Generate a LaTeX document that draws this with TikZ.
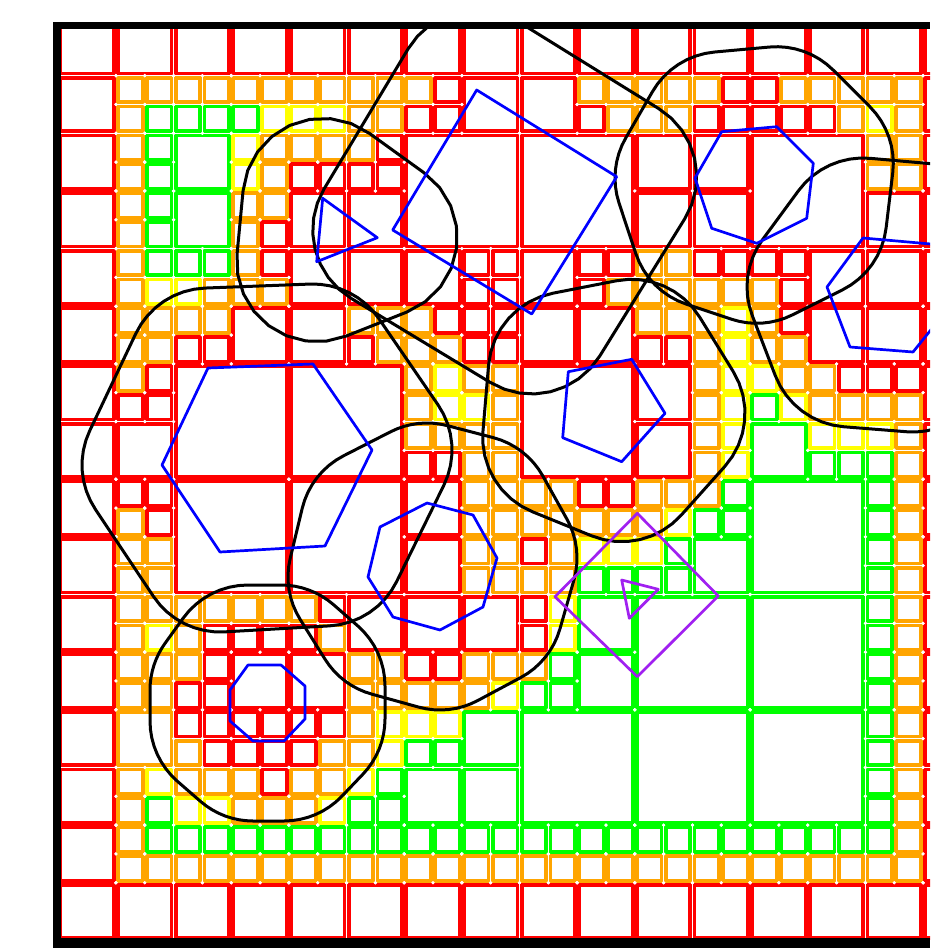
\documentclass[tikz,border=0pt]{standalone}
\usetikzlibrary{calc}
\definecolor{cR}{RGB}{255,0,0}
\definecolor{cO}{RGB}{255,165,0}
\definecolor{cY}{RGB}{255,255,0}
\definecolor{cG}{RGB}{0,255,0}
\definecolor{cB}{RGB}{0,0,255}
\definecolor{cP}{RGB}{160,32,240}
\tikzset{
  cellband/.style={line width=3.8},
  blobline/.style={black,line width=3,line join=round},
  polyline/.style={cB,line width=2.7,line join=round},
  purpline/.style={cP,line width=2.7,line join=round},
}
\newif\ifdotmode
\newcommand\qbox[4]{%
  \ifdotmode
    \fill[white] (#1,#2) circle[radius=1.7] ({#1+#3},#2) circle[radius=1.7]
      (#1,{#2+#3}) circle[radius=1.7] ({#1+#3},{#2+#3}) circle[radius=1.7];
  \else
    \draw[cellband,c#4] ({#1+2.1},{#2+2.1}) rectangle ({#1+#3-2.1},{#2+#3-2.1});
  \fi}
\newcommand\drawcell[4]{%
  \pgfmathsetmacro\X{58.3+57.65*#1}\pgfmathsetmacro\Y{18+57.65*#2}\pgfmathsetmacro\S{57.65*#3}%
  \qbox{\X}{\Y}{\S}{#4}}
\newcommand\drawsub[6]{%
  \pgfmathsetmacro\X{58.3+57.65*#1}\pgfmathsetmacro\Y{18+57.65*#2}%
  \pgfmathsetmacro\Xh{\X+28.825}\pgfmathsetmacro\Yh{\Y+28.825}%
  \qbox{\X}{\Y}{28.825}{#3}\qbox{\Xh}{\Y}{28.825}{#4}%
  \qbox{\X}{\Yh}{28.825}{#5}\qbox{\Xh}{\Yh}{28.825}{#6}}
\def\docellA#1#2#3#4#5\stopcell{%
  \if x#1\relax\else
    \if m#1\relax\drawcell{\ci}{\cj}{2}{#2}%
    \else
      \if .#2\relax\drawcell{\ci}{\cj}{1}{#1}%
      \else\drawsub{\ci}{\cj}{#1}{#2}{#3}{#4}%
      \fi
    \fi
  \fi}
\newcommand\Row[2]{\def\cj{#1}\foreach[count=\ci from 0] \e in {#2}{\expandafter\docellA\e....\stopcell}}
\newcommand\gridtable{%
\Row{0}{R,R,R,R,R,R,R,R,R,R,R,R,R,R,R,R}%
\Row{1}{R,OOOG,OOGG,OOGY,OOYY,OOOO,ORRR,R,R,OORO,OOOO,ORRR,RORR,OORO,OOYO,R}%
\Row{2}{R,OGOG,G,YOYO,OORR,ORRR,mR,x,mR,x,R,R,mR,x,OOOO,R}%
\Row{3}{R,OGOG,G,OOOR,R,R,x,x,x,x,R,R,x,x,R,R}%
\Row{4}{R,OGOY,GGYO,OROO,R,R,R,RRRR,R,RRRO,OOOO,RROO,RROR,R,R,R}%
\Row{5}{R,OOOO,OORR,R,R,OORO,OROO,RRRR,R,R,OORR,OYOY,OROO,R,R,R}%
\Row{6}{R,ORRR,mR,x,mR,x,OYOY,OOYO,mR,x,R,OYOY,YOGY,OROO,RROO,R}%
\Row{7}{R,R,x,x,x,x,OORR,OOOO,x,x,R,OYOY,G,YYGG,YOGO,R}%
\Row{8}{R,RROR,mR,x,mR,x,R,OOOO,OOOO,RROO,OOOY,OGGG,mG,x,GOGO,R}%
\Row{9}{R,OOOO,x,x,x,x,R,OOOO,ROOO,YYGG,YGGG,G,x,x,GOGO,R}%
\Row{10}{R,OOOY,OOOR,OORR,ORRO,R,R,R,RYRY,G,mG,x,mG,x,GOGO,R}%
\Row{11}{R,OOOO,ORRR,R,R,OOOO,RROO,OOOY,OGGG,G,x,x,x,x,GOGO,R}%
\Row{12}{R,O,RROR,RRRR,RRRO,OYOY,YYGG,G,mG,x,mG,x,mG,x,GOGO,R}%
\Row{13}{R,OYOG,OOYY,OROO,OOOY,YGGG,G,G,x,x,x,x,x,x,GOGO,R}%
\Row{14}{R,OGOO,GGOO,GGOO,GGOO,GGOO,GGOO,GGOO,GGOO,GGOO,GGOO,GGOO,GGOO,GGOO,GOOO,R}%
\Row{15}{R,R,R,R,R,R,R,R,R,R,R,R,R,R,R,R}%
}
% rounded offset outline (distance 80) of a convex polygon
\newcommand\blob[1]{%
  \gdef\blobpts{}%
  \foreach[count=\nn] \vx/\vy in {#1}{%
    \expandafter\xdef\csname bx\nn\endcsname{\vx}%
    \expandafter\xdef\csname by\nn\endcsname{\vy}%
    \xdef\blobN{\nn}}%
  \foreach \kk in {1,...,\blobN}{%
    \pgfmathtruncatemacro\kp{\kk==1 ? \blobN : \kk-1}%
    \pgfmathtruncatemacro\kn{\kk==\blobN ? 1 : \kk+1}%
    \edef\Vx{\csname bx\kk\endcsname}\edef\Vy{\csname by\kk\endcsname}%
    \edef\Px{\csname bx\kp\endcsname}\edef\Py{\csname by\kp\endcsname}%
    \edef\Nx{\csname bx\kn\endcsname}\edef\Ny{\csname by\kn\endcsname}%
    \pgfmathsetmacro\aone{atan2(\Vy-\Py,\Vx-\Px)}%
    \pgfmathsetmacro\atwo{atan2(\Ny-\Vy,\Nx-\Vx)}%
    \pgfmathsetmacro\turn{mod(\atwo-\aone+540,360)-180}%
    \pgfmathsetmacro\sg{\turn>0 ? 1 : -1}%
    \foreach \qq in {0,...,8}{%
      \pgfmathsetmacro\ang{\aone-90*\sg+\qq*\turn/8}%
      \pgfmathsetmacro\ppx{\Vx+80*cos(\ang)}%
      \pgfmathsetmacro\ppy{\Vy+80*sin(\ang)}%
      \xdef\blobpts{\blobpts(\ppx,\ppy)}}%
  }%
  \edef\tmp{\noexpand\draw[blobline] plot coordinates {\blobpts} -- cycle;}\tmp
}
\def\PA{322.7/198.3,377.3/237.7,316.7/261.7}
\def\PB{476.7/90,616.7/176.7,531.7/314,392.7/230}
\def\PC{721.7/131.7,776.7/126.7,813.3/163.3,806.7/218.3,756.7/243.3,711.7/228.3,695/178}
\def\PD{568.3/371.7,631.7/359.3,665/413.3,621.7/461.7,562.7/437.7}
\def\PE{863/238,942/245,955/300,913/352,850/347,827/287}
\def\PF{208/368,313/364,372/450,325/546,220/552,162/465}
\def\PG{380/527,427/503,473/515,497/558,483/607,440/630,393/617,368/577}
\def\PH{248/665,281/665,305/686,305/719,284/741,253/741,230/721,230/690}
\begin{document}
\begin{tikzpicture}[x=1pt,y=-1pt]
\useasboundingbox (0,0) rectangle (930,948);
\begin{scope}
\clip (53,22) rectangle (930,948);
\dotmodefalse\gridtable
\dotmodetrue\gridtable
\expandafter\blob\expandafter{\PA}
\expandafter\blob\expandafter{\PB}
\expandafter\blob\expandafter{\PC}
\expandafter\blob\expandafter{\PD}
\expandafter\blob\expandafter{\PE}
\expandafter\blob\expandafter{\PF}
\expandafter\blob\expandafter{\PG}
\expandafter\blob\expandafter{\PH}
\draw[polyline] (322.7,198.3) -- (377.3,237.7) -- (316.7,261.7) -- cycle;
\draw[polyline] (476.7,90) -- (616.7,176.7) -- (531.7,314) -- (392.7,230) -- cycle;
\draw[polyline] (721.7,131.7) -- (776.7,126.7) -- (813.3,163.3) -- (806.7,218.3) -- (756.7,243.3) -- (711.7,228.3) -- (695,178) -- cycle;
\draw[polyline] (568.3,371.7) -- (631.7,359.3) -- (665,413.3) -- (621.7,461.7) -- (562.7,437.7) -- cycle;
\draw[polyline] (863,238) -- (942,245) -- (955,300) -- (913,352) -- (850,347) -- (827,287) -- cycle;
\draw[polyline] (208,368) -- (313,364) -- (372,450) -- (325,546) -- (220,552) -- (162,465) -- cycle;
\draw[polyline] (380,527) -- (427,503) -- (473,515) -- (497,558) -- (483,607) -- (440,630) -- (393,617) -- (368,577) -- cycle;
\draw[polyline] (248,665) -- (281,665) -- (305,686) -- (305,719) -- (284,741) -- (253,741) -- (230,721) -- (230,690) -- cycle;
\draw[purpline] (637.3,513.3) -- (718.3,596) -- (637.3,676.7) -- (555,596.7) -- cycle;
\draw[purpline] (621.7,580) -- (658.3,589.3) -- (629.3,618.3) -- cycle;
\end{scope}
\fill[black] (53,22) rectangle (60.7,948);
\fill[black] (53,22) rectangle (930,29.3);
\fill[black] (53,938.3) rectangle (930,948);
\end{tikzpicture}
\end{document}
